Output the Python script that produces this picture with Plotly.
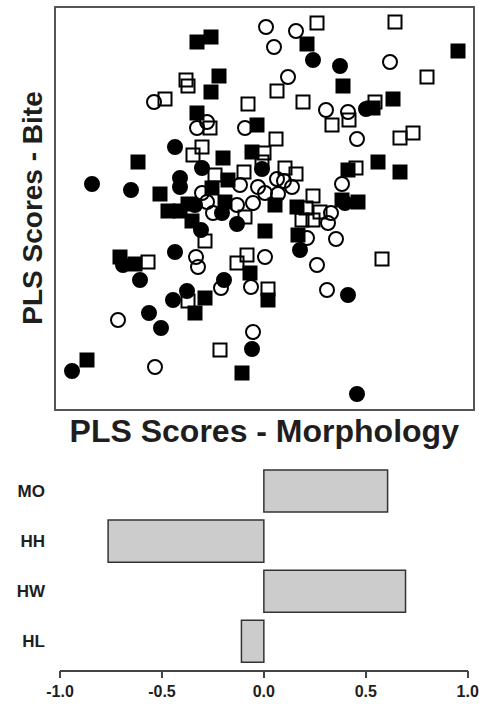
import plotly.graph_objects as go

# PLS scores (morphology on x, bite on y) by group
fs_x = [-0.067, -0.053, 0.043, 0.079, 0.194, -0.045, -0.053, 0.109, 0.129, 0.114, 0.136, 0.084,
        0.078, 0.094, -0.067, -0.007, -0.126, -0.041, -0.012, -0.104, -0.036, -0.052, -0.096,
        -0.084, -0.072, -0.076, -0.039, -0.059, -0.069, -0.177, -0.022, 0.004, 0.011, 0.033,
        0.001, 0.034, -0.144, -0.129, -0.014]
fs_y = [0.164, 0.169, 0.162, 0.120, 0.155, 0.130, 0.114, 0.098, 0.107, 0.044, 0.034, 0.036,
        0.006, 0.004, 0.093, 0.081, 0.044, 0.048, 0.054, 0.012, 0.026, 0.018, -0.005,
        -0.005, -0.015, 0.002, 0.004, -0.092, -0.107, -0.154, -0.167, -0.094, 0.001, -0.001,
        -0.025, -0.029, -0.051, -0.058, -0.067]

fc_x = [0.049, 0.076, 0.102, -0.089, -0.062, -0.172, -0.133, -0.084, -0.084, -0.069, -0.042,
        -0.027, -0.063, -0.089, -0.124, -0.040, -0.077, -0.091, -0.115, -0.103, -0.192, -0.012,
        0.093, 0.084, 0.036, 0.081, -0.002, -0.141]
fc_y = [0.146, 0.140, 0.097, 0.059, 0.038, 0.022, 0.016, 0.028, 0.019, 0.001, -0.007,
        -0.018, -0.024, -0.046, -0.074, -0.074, -0.085, -0.094, -0.107, -0.122, -0.165, -0.143,
        -0.188, -0.089, -0.044, 0.003, 0.037, -0.059]

os_x = [0.053, 0.131, 0.163, -0.078, -0.076, -0.099, -0.016, -0.054, 0.013, 0.039, 0.111, 0.068,
        0.085, 0.136, 0.149, 0.092, -0.062, -0.071, -0.049, -0.020, 0.012, 0.000, -0.002, 0.021,
        0.032, 0.049, -0.059, -0.116, -0.019, -0.017, -0.027, -0.076, -0.044, 0.042, 0.056,
        0.038, 0.049, 0.118, 0.004]
os_y = [0.183, 0.184, 0.129, 0.126, 0.120, 0.107, 0.102, 0.078, 0.115, 0.104, 0.104, 0.081,
        0.086, 0.068, 0.073, 0.038, 0.059, 0.051, 0.031, 0.034, 0.067, 0.053, 0.044, 0.038,
        0.032, 0.010, -0.035, -0.056, -0.011, -0.049, -0.057, -0.095, -0.144, -0.002, -0.006,
        -0.014, -0.014, -0.053, -0.083]

oc_x = [0.002, 0.010, 0.032, 0.126, 0.024, -0.110, 0.062, 0.084, 0.093, 0.078, -0.057, -0.067,
        -0.019, -0.024, -0.062, -0.057, -0.051, -0.068, -0.066, -0.013, -0.043, -0.146, -0.011,
        -0.109, 0.067, 0.064, 0.043, 0.072, 0.001, 0.053, 0.063, 0.013, 0.020, 0.028, -0.006,
        0.014, 0.001, -0.027, -0.011]
oc_y = [0.179, 0.159, 0.175, 0.144, 0.129, 0.104, 0.096, 0.094, 0.067, 0.022, 0.084, 0.078,
        0.078, 0.021, 0.013, 0.004, -0.007, -0.051, -0.061, -0.081, -0.082, -0.114, -0.126,
        -0.161, -0.007, -0.017, -0.032, -0.033, -0.051, -0.059, -0.084, 0.027, 0.025, 0.019,
        0.019, 0.012, 0.013, 0.001, 0.003]

# Morphology variable loadings
traits = ["MO", "HH", "HW", "HL"]
loadings = [0.607, -0.764, 0.695, -0.11]
tick_vals = [-1.0, -0.5, 0.0, 0.5, 1.0]
tick_text = ["-1.0", "-0.5", "0.0", "0.5", "1.0"]

W, H = 479, 704
FONT = "Liberation Sans, Arial, sans-serif"
INK = "#1e1e1e"


def px_x(p):
    return p / W


def px_y(p):
    return 1 - p / H


fig = go.Figure()

marker_specs = [
    (fs_x, fs_y, "square", 13, "black"),
    (fc_x, fc_y, "circle", 14, "black"),
    (os_x, os_y, "square-open", 13, "black"),
    (oc_x, oc_y, "circle-open", 14, "black"),
]
for xs, ys, sym, size, col in marker_specs:
    fig.add_trace(go.Scatter(
        x=xs, y=ys, mode="markers", xaxis="x", yaxis="y",
        marker=dict(symbol=sym, size=size, color=col,
                    line=dict(color="black", width=2)),
        showlegend=False, hoverinfo="skip",
    ))

fig.add_trace(go.Bar(
    x=loadings, y=traits, orientation="h", xaxis="x2", yaxis="y2",
    base=0, width=0.84,
    marker=dict(color="#cccccc", line=dict(color="#333333", width=1.5)),
    showlegend=False, hoverinfo="skip",
))

fig.update_layout(
    width=W, height=H,
    margin=dict(l=0, r=0, t=0, b=0, autoexpand=False),
    paper_bgcolor="white", plot_bgcolor="white",
    font=dict(family=FONT, color=INK),
    xaxis=dict(
        domain=[px_x(55.5), px_x(473)], range=[-0.2085, 0.209],
        showgrid=False, zeroline=False, showticklabels=False, ticks="",
        showline=True, mirror=True, linecolor="#555555", linewidth=2,
        title=dict(text="PLS Scores - Morphology", standoff=10,
                   font=dict(size=32, family=FONT, weight="bold", color=INK)),
        anchor="y", automargin=False,
    ),
    yaxis=dict(
        domain=[px_y(408.5), px_y(7.5)], range=[-0.2025, 0.1985],
        showgrid=False, zeroline=False, showticklabels=False, ticks="",
        showline=True, mirror=True, linecolor="#555555", linewidth=2,
        title=dict(text="PLS Scores - Bite", standoff=3,
                   font=dict(size=28, family=FONT, weight="bold", color=INK)),
        anchor="x", automargin=False,
    ),
    xaxis2=dict(
        domain=[px_x(60), px_x(467.7)], range=[-1, 1],
        tickvals=tick_vals, ticktext=tick_text,
        showgrid=False, zeroline=False,
        showline=True, linecolor="#444444", linewidth=1.5,
        ticks="outside", ticklen=7, tickwidth=1.5, tickcolor="#444444",
        tickfont=dict(size=16, family=FONT, weight="bold", color=INK),
        anchor="y2", automargin=False,
    ),
    yaxis2=dict(
        domain=[px_y(669.5), px_y(465)], range=[-0.563, 3.519],
        type="category", categoryorder="array", categoryarray=traits[::-1],
        showgrid=False, zeroline=False, showline=False, ticks="",
        ticklabelstandoff=14,
        tickfont=dict(size=17, family=FONT, weight="bold", color=INK),
        anchor="x2", automargin=False,
    ),
)

fig.write_html("out.html")
